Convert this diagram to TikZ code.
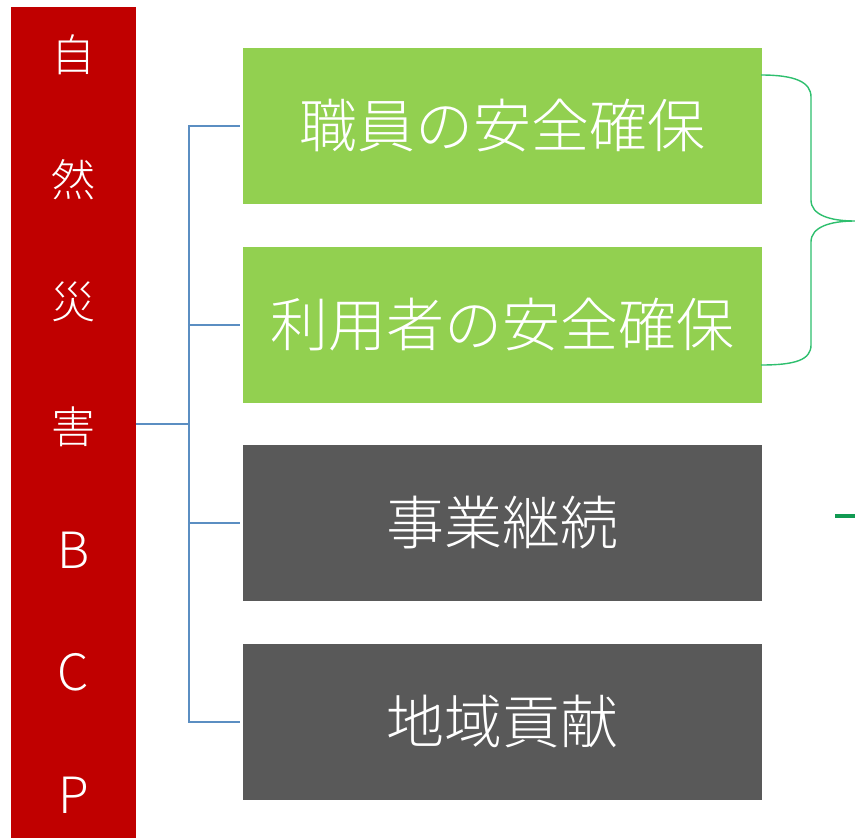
\documentclass[tikz,border=0pt]{standalone}
\usepackage{fontspec}
\newfontfamily\cjk{Noto Sans CJK JP Light}
\newfontfamily\latin{Noto Sans CJK JP Light}
\definecolor{barred}{HTML}{C00000}
\definecolor{boxgreen}{HTML}{92D050}
\definecolor{boxgray}{HTML}{595959}
\definecolor{linkblue}{HTML}{5B8EC2}
\definecolor{bracegreen}{HTML}{2EBF6E}
\definecolor{dashgreen}{HTML}{119A52}
\begin{document}
\begin{tikzpicture}[x=1pt,y=-1pt,
  box/.style={draw=none,minimum width=519pt,minimum height=156pt,inner sep=0pt,
    text=white,font=\cjk\fontsize{58}{64}\selectfont},
  barchar/.style={text=white,inner sep=0pt,font=\cjk\fontsize{44}{50}\selectfont},
  link/.style={draw=linkblue,line width=1.6pt},
  bracestyle/.style={draw=bracegreen,line width=1.4pt}]
\useasboundingbox (0,0) rectangle (855,838);
\fill[white] (0,0) rectangle (855,838);
\node[fill=barred,minimum width=125pt,minimum height=831pt,inner sep=0pt] (bar) at (73.5,422.5) {};
\node[barchar] (c1) at (73.5,55) {自};
\node[barchar] (c2) at (73.5,180) {然};
\node[barchar] (c3) at (73.5,302) {災};
\node[barchar] (c4) at (73.5,427) {害};
\node[barchar,font=\latin\fontsize{50}{54}\selectfont] (c5) at (73.5,550) {B};
\node[barchar,font=\latin\fontsize{50}{54}\selectfont] (c6) at (73.5,672) {C};
\node[barchar,font=\latin\fontsize{50}{54}\selectfont] (c7) at (73.5,795) {P};
\node[box,fill=boxgreen] (b1) at (502.5,126) {職員の安全確保};
\node[box,fill=boxgreen] (b2) at (502.5,325) {利用者の安全確保};
\node[box,fill=boxgray] (b3) at (502.5,523) {事業継続};
\node[box,fill=boxgray] (b4) at (502.5,722) {地域貢献};
\coordinate (j) at (189,424);
\draw[link] (bar.east |- j) -- (j);
\draw[link,shorten <=3pt] (b1.west) -- (b1.west -| j) -- (b4.west -| j) -- ([xshift=-3pt]b4.west);
\draw[link,shorten <=3pt] (b2.west) -- (b2.west -| j);
\draw[link,shorten <=3pt] (b3.west) -- (b3.west -| j);
\coordinate (bt) at (761,75);
\coordinate (bb) at (761,365);
\coordinate (tip) at (855,221);
\draw[bracestyle] (bt) .. controls (795,75) and (811,82) .. (811,97) -- (811,200)
  .. controls (811,215) and (830,221) .. (tip)
  .. controls (830,221) and (811,227) .. (811,242) -- (811,345)
  .. controls (811,360) and (795,365) .. (bb);
\coordinate (d1) at (835,516);
\coordinate (d2) at (855,516);
\draw[dashgreen,line width=4pt] (d1) -- (d2);
\end{tikzpicture}
\end{document}
